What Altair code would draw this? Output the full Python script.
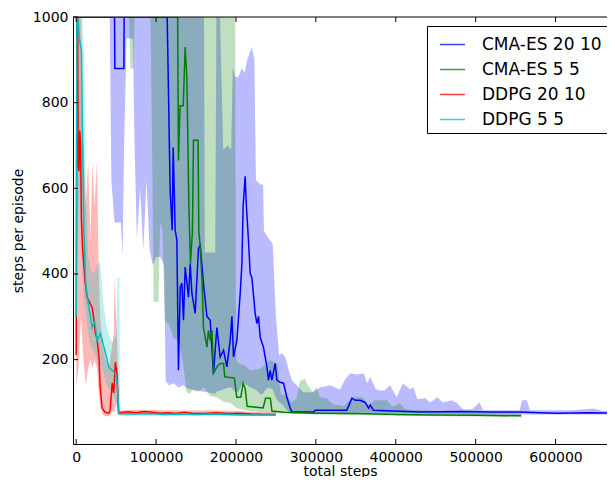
import altair as alt
import pandas as pd

# ---------------- data ----------------
names = ["CMA-ES 20 10", "CMA-ES 5 5", "DDPG 20 10", "DDPG 5 5"]
colors = ["#0000ff", "#008000", "#ff0000", "#00bfbf"]

x_ticks = [0, 100000, 200000, 300000, 400000, 500000, 600000]
y_ticks = [200, 400, 600, 800, 1000]

# CMA-ES 20 10 (mean line)
b_x = [0, 48000, 48400, 59700, 60000, 113900, 117600, 120200, 121400, 123900, 126000, 128000,
       130200, 132300, 134300, 136400, 140600, 142700, 144800, 148900, 153100, 155200, 159300,
       163600, 167700, 171800, 176100, 180200, 184400, 188600, 192700, 194900, 196900, 201100,
       205300, 207400, 209000, 211500, 213000, 215600, 217800, 219900, 224000, 226200, 228200,
       230300, 234400, 238700, 240700, 242800, 244900, 249100, 251200, 255300, 259500, 263700,
       267800, 270000, 297000, 299100, 338800, 345100, 349200, 355500, 361700, 365900, 368000,
       372100, 430600, 480000, 520000, 555700, 580000, 602000, 640000, 675000]
b_y = [1000, 1000, 880, 880, 1000, 1000, 595, 502, 695, 502, 479, 175,
       369, 378, 292, 416, 346, 424, 355, 308, 460, 467, 378,
       301, 292, 168, 275, 206, 222, 183, 245, 301, 206, 245,
       355, 424, 560, 628, 560, 479, 401, 392, 308, 284, 301,
       252, 229, 183, 152, 175, 152, 191, 152, 147, 145, 112,
       87, 78, 78, 82, 82, 110, 105, 105, 100, 87, 94,
       82, 78, 79, 78, 78, 76, 75, 76, 75]

# CMA-ES 20 10 (band)
bb_x = [42000, 44000, 48000, 56000, 58000, 60000, 63000, 71000, 73000, 76000, 80000, 84000,
        88000, 92000, 96000, 100000, 105000, 110000, 112000, 116000, 122000, 128000, 134000,
        140000, 150000, 160000, 161000, 174000, 175500, 180000, 184000, 190000, 194000, 196000,
        199000, 203000, 207000, 211000, 214000, 218000, 220000, 223000, 225000, 230000, 234000,
        235000, 240000, 246000, 250000, 254000, 258000, 262000, 266000, 270000, 276000, 284000,
        297000, 305000, 318000, 330000, 336000, 343000, 352000, 360000, 364000, 368000, 375000,
        380000, 386000, 393000, 401000, 409000, 418000, 422000, 427000, 437000, 443000, 452000,
        459000, 470000, 477000, 484000, 496000, 505000, 509000, 555000, 558000, 564000, 568000,
        620000, 647000, 660000, 675000]
bb_hi = [1000, 1000, 1000, 1000, 1000, 1000, 1000, 1000, 1000, 1000, 1000, 1000,
         1000, 1000, 1000, 1000, 1000, 1000, 1000, 1000, 1000, 1000, 1000,
         1000, 1000, 1000, 450, 450, 1000, 1000, 690, 700, 690, 883,
         860, 860, 880, 870, 900, 920, 930, 900, 619, 610, 607,
         500, 485, 470, 300, 210, 215, 205, 175, 152, 140, 124,
         124, 135, 140, 130, 152, 168, 165, 168, 145, 160, 131,
         128, 128, 140, 112, 145, 130, 136, 108, 110, 100, 112,
         100, 105, 98, 84, 85, 100, 82, 82, 105, 105, 82,
         82, 86, 80, 79]
bb_lo = [1000, 620, 520, 520, 440, 700, 950, 950, 700, 480, 600, 455,
         620, 455, 420, 440, 440, 420, 150, 140, 145, 135, 140,
         132, 128, 125, 125, 120, 125, 128, 130, 135, 135, 130,
         125, 125, 140, 145, 140, 135, 135, 130, 130, 120, 120,
         125, 135, 130, 110, 100, 95, 85, 78, 74, 74, 74,
         74, 75, 75, 75, 75, 76, 76, 76, 75, 75, 75,
         75, 74, 74, 74, 74, 74, 74, 74, 74, 73, 73,
         73, 73, 73, 72, 72, 72, 72, 72, 72, 72, 72,
         72, 72, 72, 72]

# CMA-ES 5 5 (mean line)
g_x = [0, 127000, 128000, 130000, 134000, 136400, 138500, 141000, 143000, 145500, 146800, 152500,
       153500, 155200, 157500, 159300, 163600, 165500, 167700, 170000, 171800, 176100, 180200,
       184400, 186000, 198000, 201000, 206000, 209000, 211500, 214000, 234000, 237000, 243000,
       245000, 260000, 280000, 300000, 350000, 400000, 450000, 500000, 557000]
g_y = [1000, 1000, 665, 793, 793, 930, 860, 563, 424, 500, 712, 712,
       500, 463, 385, 275, 229, 268, 245, 268, 168, 183, 191,
       191, 160, 157, 112, 112, 145, 133, 91, 87, 110, 110,
       80, 77, 76, 75, 74, 72, 71, 70, 69]

# CMA-ES 5 5 (band)
gb_x = [66000, 68000, 72000, 73000, 93000, 95000, 97000, 103000, 105000, 108000, 111000, 116000,
        122000, 128000, 134000, 138000, 142000, 146000, 152000, 160000, 168000, 176000, 186000,
        192000, 199000, 200000, 205000, 212000, 218000, 230000, 243000, 252000,
        256000, 264000, 270000, 276000, 280000, 286000, 290000, 296000, 301000, 305000, 314000,
        322000, 335000, 347000, 359000, 366000, 374000, 389000, 396000, 405000, 412000, 450000,
        500000, 557000]
gb_lo = [1000, 880, 880, 1000, 1000, 700, 335, 335, 520, 500, 290, 284,
         250, 245, 190, 125, 120, 130, 125, 135, 115, 112, 100,
         100, 90, 88, 85, 82, 80, 78, 76, 75,
         74, 74, 73, 73, 73, 73, 73, 72, 72, 72, 72,
         72, 71, 71, 71, 70, 70, 70, 70, 69, 69, 68,
         67, 66]
gb_hi = [1000, 1000, 1000, 1000, 1000, 1000, 1000, 1000, 1000, 1000, 1000, 1000,
         1000, 1000, 1000, 1000, 1000, 1000, 1000, 1000, 1000, 1000, 1000,
         1000, 1000, 200, 190, 185, 175, 178, 199, 190,
         120, 115, 100, 110, 150, 155, 140, 125, 136, 112, 110,
         95, 92, 112, 112, 92, 105, 105, 90, 98, 84, 80,
         78, 75]

# DDPG 20 10 (mean line)
r_x = [0, 800, 1800, 2500, 3500, 4500, 5500, 6500, 8000, 10000, 11000, 13500, 17500, 20000,
       22000, 24000, 26000, 28500, 30000, 32500, 36000, 41000, 42500, 45000, 47000, 49000,
       51000, 53000, 55000, 65000, 75000, 85000, 95000, 105000, 115000, 125000, 135000,
       145000, 160000, 175000, 190000, 205000, 220000, 235000, 250000]
r_y = [210, 1000, 1000, 650, 640, 735, 700, 530, 460, 410, 385, 346, 331, 322,
       296, 261, 250, 206, 136, 87, 77, 75, 82, 145, 122, 194,
       168, 75, 76, 78, 76, 79, 77, 75, 76, 74, 77,
       75, 74, 76, 74, 75, 73, 72, 72]

# DDPG 20 10 (band)
rb_x = [0, 3000, 6000, 9000, 12000, 15000, 18000, 20000, 23000, 26000, 28000, 30000, 33000,
        37000, 41000, 44000, 47000, 48000, 50000, 52000, 54000, 57000, 80000, 110000, 140000,
        170000, 200000, 230000, 250000]
rb_lo = [140, 180, 300, 200, 140, 180, 200, 180, 200, 180, 130, 90, 72,
         68, 68, 75, 80, 75, 100, 72, 70, 71, 72, 71, 70,
         71, 70, 69, 69]
rb_hi = [1000, 1000, 1000, 700, 560, 660, 480, 660, 560, 665, 420, 300, 230,
         200, 180, 220, 260, 392, 300, 200, 82, 82, 83, 82, 81,
         82, 80, 78, 77]

# DDPG 5 5 (mean line)
c_x = [0, 1000, 2500, 4000, 6600, 7500, 8800, 9600, 10900, 11600, 14000, 15900, 20000, 23000,
       26300, 30400, 34700, 38000, 40900, 45000, 49200, 51300, 53400, 55000, 70000, 90000,
       110000, 130000, 150000, 170000, 190000, 210000, 230000, 250000]
c_y = [300, 1000, 990, 950, 922, 766, 610, 502, 440, 385, 345, 322, 275, 290,
       245, 261, 229, 205, 182, 175, 168, 145, 75, 74, 73, 74,
       72, 73, 72, 73, 72, 71, 71, 71]

# DDPG 5 5 (band)
cb_x = [0, 4000, 8000, 10000, 12000, 15000, 18000, 22000, 26000, 30000, 34000, 38000, 42000,
        46000, 50000, 52000, 54000, 55000, 80000, 110000, 140000, 170000, 200000, 230000, 250000]
cb_lo = [300, 600, 400, 330, 300, 260, 230, 220, 200, 190, 170, 140, 130,
         120, 100, 90, 70, 68, 69, 68, 69, 68, 68, 68, 68]
cb_hi = [1000, 1000, 1000, 900, 600, 440, 410, 400, 420, 430, 330, 280, 250,
         240, 260, 392, 392, 80, 78, 77, 78, 77, 76, 75, 75]

# ---------------- chart ----------------
W, H = 534, 427
X_DOMAIN = [-4000, 664400]
Y_DOMAIN = [3, 1000]

xscale = alt.Scale(domain=X_DOMAIN, nice=False, zero=False)
yscale = alt.Scale(domain=Y_DOMAIN, nice=False, zero=False)


def xenc(field="x"):
    return alt.X(f"{field}:Q", scale=xscale,
                 axis=alt.Axis(values=x_ticks, format="d", title="total steps"))


def yenc(field="y"):
    return alt.Y(f"{field}:Q", scale=yscale,
                 axis=alt.Axis(values=y_ticks, format="d", title="steps per episode"))


def band(xs, lo, hi, color, op):
    df = pd.DataFrame({"x": xs, "lo": lo, "hi": hi})
    return alt.Chart(df).mark_area(color=color, opacity=op, clip=True).encode(
        x=xenc(), y=yenc("lo"), y2="hi:Q")


color_scale = alt.Scale(domain=names, range=colors)
legend = alt.Legend(orient="none", legendX=354, legendY=9, title=None,
                    labelFont="DejaVu Sans", labelFontSize=17, labelColor="black",
                    symbolType="stroke", symbolSize=625, symbolStrokeWidth=1.5,
                    symbolOpacity=0.75, labelOffset=16, rowPadding=3, padding=5,
                    symbolOffset=7, strokeColor="black", fillColor="white",
                    cornerRadius=0, labelLimit=400, direction="vertical")


def line(xs, ys, name):
    df = pd.DataFrame({"x": xs, "y": ys, "series": [name] * len(xs)})
    return alt.Chart(df).mark_line(strokeWidth=1.5, clip=True).encode(
        x=xenc(), y=yenc(),
        color=alt.Color("series:N", scale=color_scale, legend=legend))


bands = [
    band(bb_x, bb_lo, bb_hi, colors[0], 0.27),
    band(gb_x, gb_lo, gb_hi, colors[1], 0.25),
    band(rb_x, rb_lo, rb_hi, colors[2], 0.28),
    band(cb_x, cb_lo, cb_hi, colors[3], 0.25),
]
lines = [
    line(b_x, b_y, names[0]),
    line(g_x, g_y, names[1]),
    line(r_x, r_y, names[2]),
    line(c_x, c_y, names[3]),
]

xt_df = pd.DataFrame({"x": x_ticks})
yt_df = pd.DataFrame({"y": y_ticks})
one = pd.DataFrame({"a": [0]})

ticks_bottom = alt.Chart(xt_df).mark_rule(color="black", strokeWidth=1).encode(
    x=xenc(), y=alt.value(H), y2=alt.value(H - 5))
ticks_top = alt.Chart(xt_df).mark_rule(color="black", strokeWidth=1).encode(
    x=xenc(), y=alt.value(0), y2=alt.value(5))
ticks_left = alt.Chart(yt_df).mark_rule(color="black", strokeWidth=1).encode(
    y=yenc(), x=alt.value(0), x2=alt.value(5))
top_spine = alt.Chart(one).mark_rule(color="black", strokeWidth=1).encode(
    x=alt.value(0), x2=alt.value(W), y=alt.value(0))

chart = alt.layer(*bands, *lines, ticks_bottom, ticks_top, ticks_left, top_spine).properties(
    width=W, height=H,
    padding={"left": 65, "top": 9, "right": 0, "bottom": 33},
    autosize=alt.AutoSizeParams(type="none"),
).configure_view(stroke=None).configure_axis(
    domainColor="black", domainWidth=1, grid=False, ticks=False,
    labelFont="DejaVu Sans", labelFontSize=14, labelColor="black",
    titleFont="DejaVu Sans", titleFontSize=14, titleFontWeight="normal", titleColor="black",
).configure_axisX(labelPadding=6, titlePadding=0).configure_axisY(labelPadding=5, titlePadding=7)

chart.save("out.html", embed_options={"renderer": "svg", "actions": False})
